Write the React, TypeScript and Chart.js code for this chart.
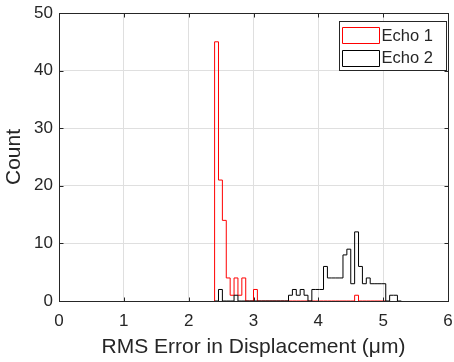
import React, { useEffect, useRef } from "react";
import { Chart, registerables } from "chart.js";

Chart.register(...registerables);

// Histogram bins (shared grid): left edge of bin 0 and bin width, in µm
const BIN_START = 2.4;
const BIN_WIDTH = 0.06;

// Counts per bin, starting at BIN_START
const echo1Counts = [
  45, 21, 14, 4, 1, 4, 1, 4, 0, 0,
  2, 0, 0, 0, 0, 0, 0, 0, 0, 0,
  0, 0, 0, 0, 0, 0, 0, 0, 0, 0,
  0, 0, 0, 0, 0, 0, 1, 0, 0, 0,
  0, 0, 0, 0,
];
const echo2Counts = [
  0, 2, 0, 0, 0, 1, 0, 0, 0, 0,
  0, 0, 0, 0, 0, 0, 0, 0, 0, 1,
  2, 1, 2, 1, 0, 2, 2, 2, 6, 4,
  4, 4, 4, 8, 9, 3, 12, 6, 3, 4,
  3, 3, 3, 3, 0, 1, 1, 0,
];

const seriesLabels = ["Echo 1", "Echo 2"];
const seriesColors = ["#ff0000", "#000000"];

const xTicks = [0, 1, 2, 3, 4, 5, 6];
const yTicks = [0, 10, 20, 30, 40, 50];

const X_TITLE = "RMS Error in Displacement (\u03bcm)";
const Y_TITLE = "Count";

const FONT = "'Liberation Sans', Arial, Helvetica, sans-serif";
const AXIS_COLOR = "#262626";
const GRID_COLOR = "#dfdfdf";

// Stairs outline of a histogram: one point per bin left edge,
// plus the closing right edge down to the baseline.
const toStairs = (counts: number[]) => {
  const edge = (i: number) => BIN_START + i * BIN_WIDTH;
  const n = counts.length;
  return [
    { x: edge(0), y: 0 },
    ...counts.map((c, i) => ({ x: edge(i), y: c })),
    { x: edge(n), y: counts[n - 1] },
    { x: edge(n), y: 0 },
  ];
};

const framePlugin = {
  id: "matlabFrame",
  afterDatasetsDraw(chart: any) {
    const { ctx, chartArea: a, scales } = chart;
    const al = (p: number) => Math.round(p) + 0.5;
    const L = al(a.left), R = al(a.right), T = al(a.top), B = al(a.bottom);
    ctx.save();
    ctx.strokeStyle = AXIS_COLOR;
    ctx.lineWidth = 1;
    ctx.strokeRect(L, T, R - L, B - T);
    const tl = 4;
    ctx.beginPath();
    for (const v of xTicks) {
      const px = al(scales.x.getPixelForValue(v));
      ctx.moveTo(px, B); ctx.lineTo(px, B - tl);
      ctx.moveTo(px, T); ctx.lineTo(px, T + tl);
    }
    for (const v of yTicks) {
      const py = al(scales.y.getPixelForValue(v));
      ctx.moveTo(L, py); ctx.lineTo(L + tl, py);
      ctx.moveTo(R, py); ctx.lineTo(R - tl, py);
    }
    ctx.stroke();

    // legend (inside, north-east)
    const bw = 107, bh = 49;
    const bx = Math.round(a.right) - 1.5 - bw;
    const by = Math.round(a.top) + 8.5;
    ctx.fillStyle = "#ffffff";
    ctx.fillRect(bx, by, bw, bh);
    ctx.strokeStyle = AXIS_COLOR;
    ctx.lineWidth = 1;
    ctx.strokeRect(bx, by, bw, bh);
    ctx.font = `16.5px ${FONT}`;
    ctx.textBaseline = "middle";
    ctx.textAlign = "left";
    seriesLabels.forEach((label, i) => {
      const cy = by + 13.5 + i * 22.5;
      ctx.beginPath();
      ctx.strokeStyle = seriesColors[i];
      ctx.lineWidth = 1;
      ctx.rect(bx + 3, Math.round(cy - 8) + 0.5, 37, 16);
      ctx.stroke();
      ctx.fillStyle = AXIS_COLOR;
      ctx.fillText(label, bx + 42, cy + 1);
    });
    ctx.restore();
  },
};

export default function App() {
  const canvasRef = useRef<HTMLCanvasElement | null>(null);

  useEffect(() => {
    const canvas = canvasRef.current;
    if (!canvas) return;
    const common = {
      type: "line" as const,
      borderWidth: 1,
      pointRadius: 0,
      fill: false,
      stepped: "before",
      tension: 0,
    };
    const chart = new Chart(canvas, {
      type: "line",
      data: {
        datasets: [
          { ...common, label: seriesLabels[0], data: toStairs(echo1Counts), borderColor: seriesColors[0], order: 1 },
          { ...common, label: seriesLabels[1], data: toStairs(echo2Counts), borderColor: seriesColors[1], order: 0 },
        ] as any,
      },
      options: {
        animation: false,
        responsive: true,
        maintainAspectRatio: false,
        events: [],
        layout: { padding: { top: 13, right: 6, left: 0, bottom: 0 } },
        plugins: { legend: { display: false }, tooltip: { enabled: false } },
        scales: {
          x: {
            type: "linear",
            min: xTicks[0],
            max: xTicks[xTicks.length - 1],
            afterFit: (s: any) => { s.height = 61; s.paddingLeft = 0; s.paddingRight = 0; },
            afterBuildTicks: (s: any) => { s.ticks = xTicks.map((v) => ({ value: v })); },
            grid: { color: GRID_COLOR, drawTicks: false },
            border: { display: false },
            ticks: { color: AXIS_COLOR, font: { family: FONT, size: 17 }, padding: 10, maxRotation: 0 },
            title: { display: true, text: X_TITLE, color: AXIS_COLOR, font: { family: FONT, size: 21 }, padding: { top: 0, bottom: 2 } },
          },
          y: {
            type: "linear",
            min: yTicks[0],
            max: yTicks[yTicks.length - 1],
            afterFit: (s: any) => { s.width = 59; s.paddingTop = 0; s.paddingBottom = 0; },
            afterBuildTicks: (s: any) => { s.ticks = yTicks.map((v) => ({ value: v })); },
            grid: { color: GRID_COLOR, drawTicks: false },
            border: { display: false },
            ticks: { color: AXIS_COLOR, font: { family: FONT, size: 17 }, padding: 6 },
            title: { display: true, text: Y_TITLE, color: AXIS_COLOR, font: { family: FONT, size: 21 }, padding: { top: 2, bottom: 0 } },
          },
        },
      } as any,
      plugins: [framePlugin],
    });
    return () => chart.destroy();
  }, []);

  return (
    <div style={{ position: "fixed", left: 0, top: 0, width: 454, height: 362, background: "#fff" }}>
      <canvas ref={canvasRef} />
    </div>
  );
}
